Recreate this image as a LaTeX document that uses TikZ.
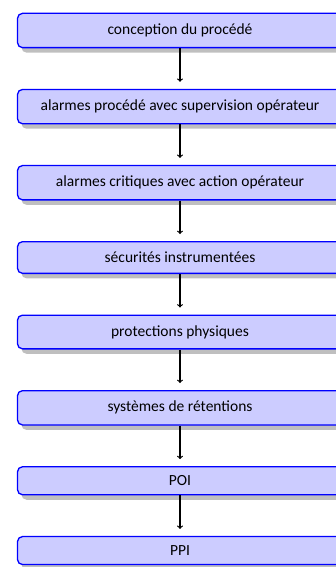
\documentclass[tikz,border=0pt]{standalone}
\usepackage{fontspec}
\setmainfont{Carlito}
\usetikzlibrary{positioning,shadows}
\begin{document}
\begin{tikzpicture}[
  box/.style={draw=blue, fill=blue!20, line width=1.3pt, rounded corners=5pt,
    minimum width=325pt, inner xsep=4pt, inner ysep=0pt, minimum height=34.3pt,
    font=\fontsize{15.5}{18}\selectfont,
    drop shadow={shadow xshift=4pt, shadow yshift=-5pt, fill=black!50, opacity=.5}},
  link/.style={->, line width=1.2pt, shorten >=7pt},
  node distance=40.5pt]
\useasboundingbox (0,0) rectangle (336pt,-567pt);
\node[box, anchor=north] (n1) at (180pt,-12.7pt) {conception du procédé};
\node[box, below=of n1] (n2) {alarmes procédé avec supervision opérateur};
\node[box, below=of n2] (n3) {alarmes critiques avec action opérateur};
\node[box, below=of n3, minimum height=31.7pt] (n4) {sécurités instrumentées};
\node[box, below=of n4, minimum height=33.7pt] (n5) {protections physiques};
\node[box, below=of n5] (n6) {systèmes de rétentions};
\node[box, below=of n6, minimum height=28pt] (n7) {POI};
\node[box, below=of n7, minimum height=28pt] (n8) {PPI};
\draw[link] (n1) -- (n2);
\draw[link] (n2) -- (n3);
\draw[link] (n3) -- (n4);
\draw[link] (n4) -- (n5);
\draw[link] (n5) -- (n6);
\draw[link] (n6) -- (n7);
\draw[link] (n7) -- (n8);
\end{tikzpicture}
\end{document}
